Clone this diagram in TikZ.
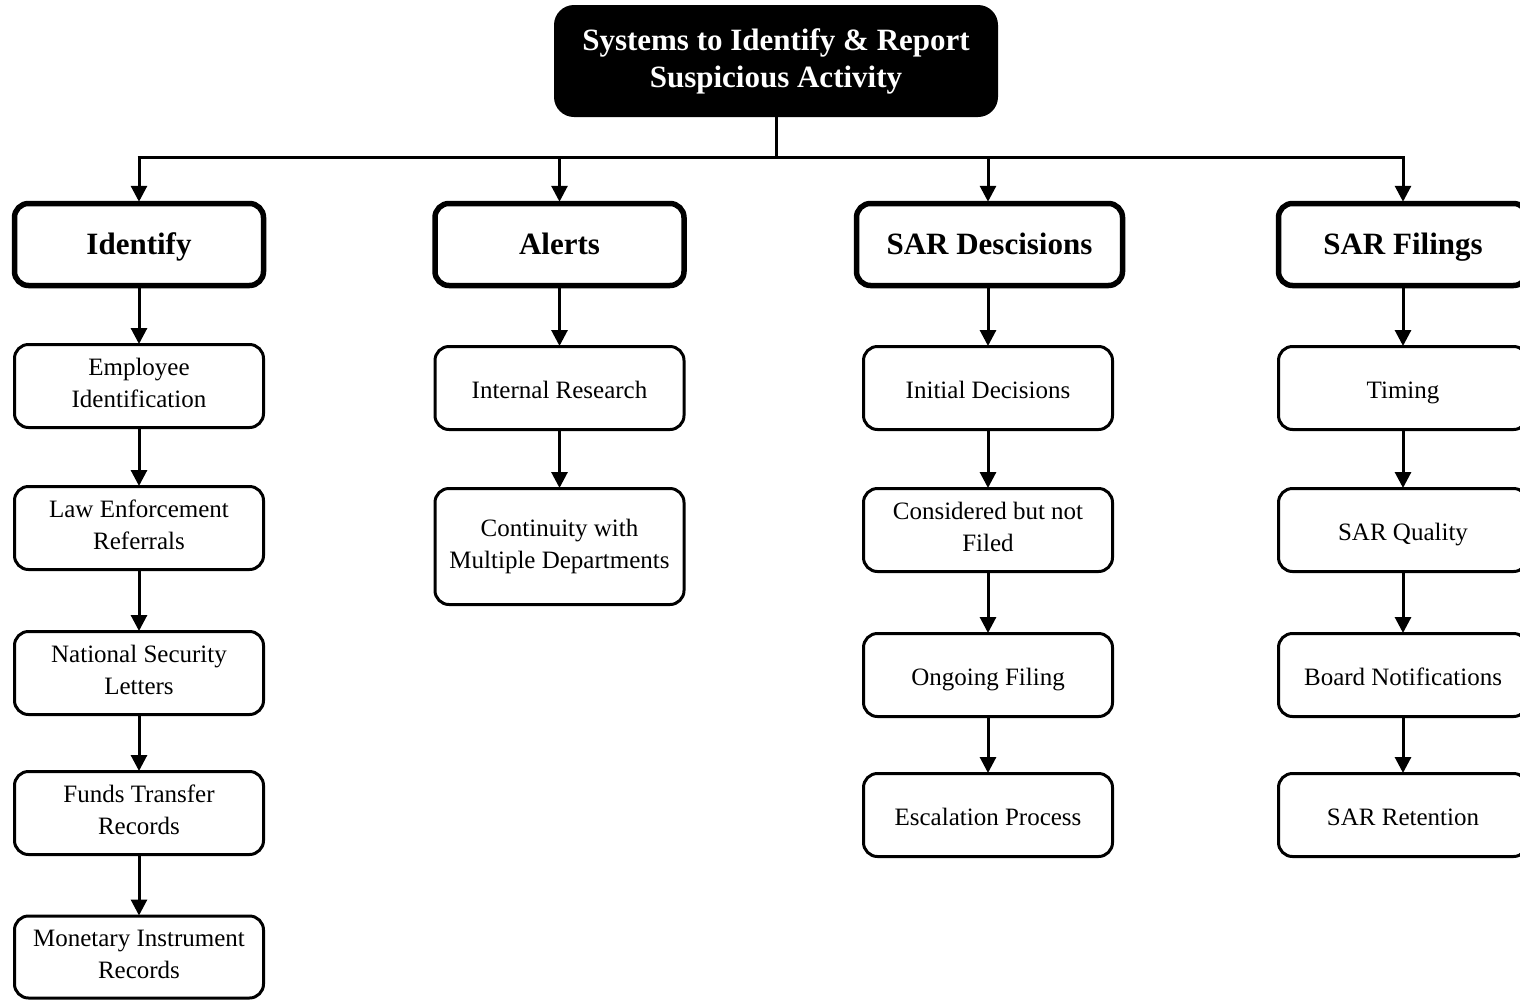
\documentclass[tikz,border=0pt]{standalone}
\usepackage{fontspec}
\setmainfont{Liberation Serif}
\usetikzlibrary{arrows.meta}
\begin{document}
\begin{tikzpicture}[x=1pt,y=-1pt,
  st/.style 2 args={execute at begin node={\rule{0pt}{#1}}, execute at end node={\rule[-#2]{0pt}{#2}}},
  titlebox/.style={st={31pt}{6pt}, fill=black, text=white, rounded corners=20pt, minimum width=444pt, minimum height=112pt, inner sep=0pt, align=center, font=\fontsize{31}{37}\selectfont\bfseries},
  headbox/.style={st={27.5pt}{7.5pt}, draw, line width=5.5pt, rounded corners=14pt, minimum width=249pt, minimum height=82pt, inner sep=0pt, align=center, font=\fontsize{31}{35}\selectfont\bfseries},
  leafbox/.style={st={26pt}{6pt}, draw, line width=3pt, rounded corners=14pt, minimum width=249pt, minimum height=83pt, inner sep=0pt, align=center, font=\fontsize{25}{32}\selectfont},
  conn/.style={line width=3pt},
  arr/.style={line width=3pt, -{Triangle[width=16pt,length=16pt]}, shorten >=-1pt}
]
\useasboundingbox (0,0) rectangle (1520,999);
\node[titlebox] (top) at (776,61) {Systems to Identify \& Report\\Suspicious Activity};

\node[headbox] (h1) at (139,244.5) {Identify};
\node[headbox] (h2) at (559.5,244.5) {Alerts};
\node[headbox, minimum width=266pt] (h3) at (989.5,244.5) {SAR Descisions};
\node[headbox] (h4) at (1403,244.5) {SAR Filings};

\coordinate (bus) at (776,157);
\coordinate (b1) at (139,157);
\coordinate (b2) at (559.5,157);
\coordinate (b3) at (988,157);
\coordinate (b4) at (1403,157);
\draw[conn] (top.south) -- (bus);
\draw[conn] ([xshift=-1.5pt]b1) -- ([xshift=1.5pt]b4);
\draw[arr] (b1) -- (h1.north);
\draw[arr] (b2) -- (h2.north);
\draw[arr] (b3) -- (b3 |- h3.north);
\draw[arr] (b4) -- (h4.north);

% Identify column
\node[leafbox] (i1) at (139,386) {Employee\\Identification};
\node[leafbox] (i2) at (139,528) {Law Enforcement\\Referrals};
\node[leafbox] (i3) at (139,673) {National Security\\Letters};
\node[leafbox] (i4) at (139,813) {Funds Transfer\\Records};
\node[leafbox, minimum height=82pt] (i5) at (139,957) {Monetary Instrument\\Records};
\draw[arr] (h1.south) -- (i1.north);
\draw[arr] (i1.south) -- (i2.north);
\draw[arr] (i2.south) -- (i3.north);
\draw[arr] (i3.south) -- (i4.north);
\draw[arr] (i4.south) -- (i5.north);

% Alerts column
\node[leafbox] (a1) at (559.5,388) {Internal Research};
\node[leafbox, minimum height=116pt] (a2) at (559.5,546.5) {Continuity with\\Multiple Departments};
\draw[arr] (h2.south) -- (a1.north);
\draw[arr] (a1.south) -- (a2.north);

% SAR Descisions column
\node[leafbox] (d1) at (988,388) {Initial Decisions};
\node[leafbox] (d2) at (988,530) {Considered but not\\Filed};
\node[leafbox] (d3) at (988,675) {Ongoing Filing};
\node[leafbox] (d4) at (988,815) {Escalation Process};
\draw[arr] (d1.north |- h3.south) -- (d1.north);
\draw[arr] (d1.south) -- (d2.north);
\draw[arr] (d2.south) -- (d3.north);
\draw[arr] (d3.south) -- (d4.north);

% SAR Filings column
\node[leafbox] (f1) at (1403,388) {Timing};
\node[leafbox] (f2) at (1403,530) {SAR Quality};
\node[leafbox] (f3) at (1403,675) {Board Notifications};
\node[leafbox] (f4) at (1403,815) {SAR Retention};
\draw[arr] (h4.south) -- (f1.north);
\draw[arr] (f1.south) -- (f2.north);
\draw[arr] (f2.south) -- (f3.north);
\draw[arr] (f3.south) -- (f4.north);
\end{tikzpicture}
\end{document}
